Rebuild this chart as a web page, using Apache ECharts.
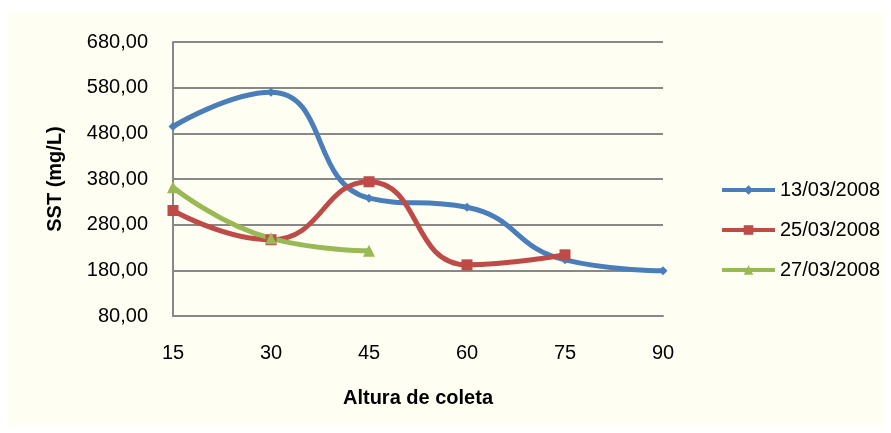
<!DOCTYPE html>
<html><head><meta charset="utf-8">
<script src="https://cdn.jsdelivr.net/npm/echarts@6/dist/echarts.min.js"></script>
<style>
html,body{margin:0;padding:0;background:#fff;}
#bg{position:absolute;left:8px;top:13px;width:875px;height:412px;background:#FEFEF2;}
#chart{position:absolute;left:0;top:0;width:891px;height:433px;}
</style></head>
<body>
<div id="bg"></div>
<div id="chart"></div>
<script>
const categories = ['15','30','45','60','75','90'];
const s1Name = '13/03/2008';
const s1 = [495, 570, 338, 318, 203, 179];
const s2Name = '25/03/2008';
const s2 = [311, 247, 374, 192, 214, null];
const s3Name = '27/03/2008';
const s3 = [362, 250, 223, null, null, null];
const yTicks = [80, 180, 280, 380, 480, 580, 680];

const chart = echarts.init(document.getElementById('chart'));
const font = 'Liberation Sans, Arial, sans-serif';
function line(name, data, color, symbol, size){
  return {name, type:'line', data, smooth:0.5, connectNulls:false,
    symbol, symbolSize:size, itemStyle:{color}, lineStyle:{color, width:5},
    z: 3};
}
chart.setOption({
  backgroundColor:'transparent',
  animation:false,
  grid:{left:173, right:228, top:42, bottom:117},
  xAxis:{type:'category', data:categories, boundaryGap:false,
    axisLine:{lineStyle:{color:'#888', width:2}}, axisTick:{show:false},
    axisLabel:{color:'#000', fontSize:20, fontFamily:font, margin:27},
    name:'Altura de coleta', nameLocation:'middle', nameGap:72,
    nameTextStyle:{color:'#000', fontSize:20, fontWeight:'bold', fontFamily:font},
    splitLine:{show:false}},
  yAxis:{type:'value', min:yTicks[0], max:yTicks[yTicks.length-1], interval:100,
    axisLine:{show:true, lineStyle:{color:'#888', width:2}}, axisTick:{show:false},
    axisLabel:{color:'#000', fontSize:20, fontFamily:font, margin:25,
      formatter: v => v.toFixed(2).replace('.', ',')},
    splitLine:{lineStyle:{color:'#888', width:2}},
    name:'SST (mg/L)', nameLocation:'middle', nameGap:108, nameRotate:90,
    nameTextStyle:{color:'#000', fontSize:20, fontWeight:'bold', fontFamily:font}},
  legend:{orient:'vertical', left:715, top:175, itemGap:20, itemWidth:53, itemHeight:12,
    lineStyle:{width:4},
    textStyle:{color:'#000', fontSize:20, fontFamily:font},
    data:[s1Name, s2Name, s3Name]},
  series:[
    line(s1Name, s1, '#4A7EBB', 'diamond', 9),
    line(s2Name, s2, '#BE4B48', 'rect', 11),
    line(s3Name, s3, '#98B954', 'triangle', 12)
  ]
});
</script>
</body></html>
